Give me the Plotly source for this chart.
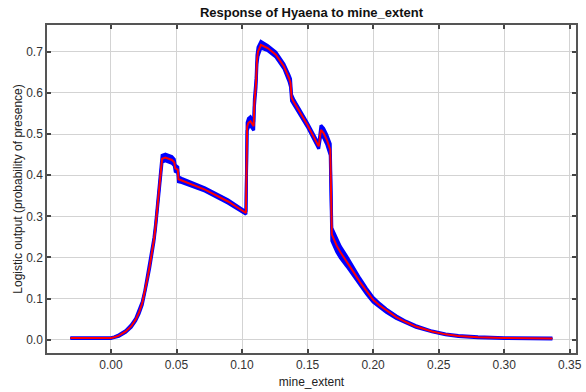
import plotly.graph_objects as go

# Mean logistic response of Hyaena to mine_extent, with replicate spread (sd)
mine_extent = [-0.031, 0.000, 0.0025, 0.006, 0.0113, 0.0155, 0.0189, 0.0215, 0.0239,
               0.0258, 0.0276, 0.0295, 0.0314, 0.0328, 0.0340, 0.0360, 0.0377, 0.0390,
               0.0415, 0.0465, 0.0483, 0.0490, 0.0510, 0.0515, 0.0540, 0.0717, 0.0893,
               0.0968, 0.1030, 0.1039, 0.1049, 0.1064, 0.1089, 0.1094, 0.1107, 0.1114,
               0.1122, 0.1144, 0.1195, 0.1258, 0.1320, 0.1358, 0.1370, 0.1378, 0.1396,
               0.1497, 0.1585, 0.1602, 0.1623, 0.1647, 0.1673, 0.1685, 0.1723, 0.1750,
               0.1800, 0.1850, 0.1900, 0.1950, 0.2000, 0.2050, 0.2100, 0.2176, 0.2250,
               0.2327, 0.2450, 0.2553, 0.2650, 0.2800, 0.3000, 0.3368]
mean_response = [0.004, 0.004, 0.006, 0.010, 0.020, 0.033, 0.049, 0.067, 0.089,
                 0.115, 0.146, 0.178, 0.211, 0.243, 0.275, 0.340, 0.397, 0.440,
                 0.443, 0.437, 0.431, 0.417, 0.413, 0.390, 0.387, 0.365, 0.336,
                 0.321, 0.308, 0.518, 0.527, 0.531, 0.519, 0.575, 0.624, 0.681,
                 0.700, 0.717, 0.709, 0.693, 0.664, 0.636, 0.624, 0.588, 0.577,
                 0.523, 0.470, 0.510, 0.502, 0.486, 0.462, 0.256, 0.228, 0.213,
                 0.190, 0.165, 0.140, 0.118, 0.097, 0.083, 0.071, 0.055, 0.043,
                 0.032, 0.020, 0.013, 0.009, 0.006, 0.004, 0.003]
response_sd = [0.001, 0.001, 0.001, 0.002, 0.002, 0.003, 0.003, 0.004, 0.004,
               0.004, 0.004, 0.005, 0.005, 0.005, 0.005, 0.005, 0.006, 0.008,
               0.008, 0.008, 0.008, 0.008, 0.007, 0.006, 0.005, 0.004, 0.004,
               0.003, 0.003, 0.010, 0.011, 0.011, 0.010, 0.010, 0.010, 0.011,
               0.011, 0.008, 0.006, 0.006, 0.006, 0.008, 0.010, 0.008, 0.006,
               0.005, 0.006, 0.011, 0.012, 0.012, 0.014, 0.016, 0.015, 0.014,
               0.012, 0.010, 0.009, 0.007, 0.006, 0.005, 0.004, 0.003, 0.002,
               0.002, 0.001, 0.001, 0.001, 0.001, 0.001, 0.001]

x_ticks = [0.00, 0.05, 0.10, 0.15, 0.20, 0.25, 0.30, 0.35]
y_ticks = [0.0, 0.1, 0.2, 0.3, 0.4, 0.5, 0.6, 0.7]

upper = [m + s for m, s in zip(mean_response, response_sd)]
lower = [m - s for m, s in zip(mean_response, response_sd)]

BLUE = "#0000ff"
RED = "#ff0000"

fig = go.Figure()
fig.add_trace(go.Scatter(x=mine_extent, y=upper, mode="lines",
                         line=dict(color=BLUE, width=3), hoverinfo="skip",
                         showlegend=False))
fig.add_trace(go.Scatter(x=mine_extent, y=lower, mode="lines",
                         line=dict(color=BLUE, width=3), fill="tonexty",
                         fillcolor=BLUE, hoverinfo="skip", showlegend=False))
fig.add_trace(go.Scatter(x=mine_extent, y=mean_response, mode="lines",
                         line=dict(color=RED, width=2), showlegend=False))

axis_common = dict(
    showline=True, linecolor="#555555", linewidth=1.5, mirror="ticks",
    ticks="inside", ticklen=4, tickcolor="#444444", tickwidth=1.5,
    showgrid=True, gridcolor="#d3d3d3", gridwidth=1, zeroline=False,
    tickfont=dict(family="Liberation Sans, Arial, sans-serif", size=12, color="#333333"),
    title_font=dict(family="Liberation Sans, Arial, sans-serif", size=12, color="#222222"),
)

fig.update_xaxes(range=[-0.0488, 0.3548], tickvals=x_ticks, tickformat=".2f",
                 title_text="mine_extent", title_standoff=6, **axis_common)
fig.update_yaxes(range=[-0.0323, 0.765], tickvals=y_ticks, tickformat=".1f",
                 title_text="Logistic output (probability of presence)",
                 title_standoff=1, **axis_common)

fig.update_layout(
    width=586, height=392,
    margin=dict(l=47, r=4, t=25, b=39),
    paper_bgcolor="white", plot_bgcolor="white",
    title=dict(text="<b>Response of Hyaena to mine_extent</b>", x=0.5,
               xref="paper", y=1 - 12 / 392, yref="container", yanchor="middle",
               font=dict(family="Liberation Sans, Arial, sans-serif", size=13,
                         color="#111111")),
)

fig.write_html("out.html")
